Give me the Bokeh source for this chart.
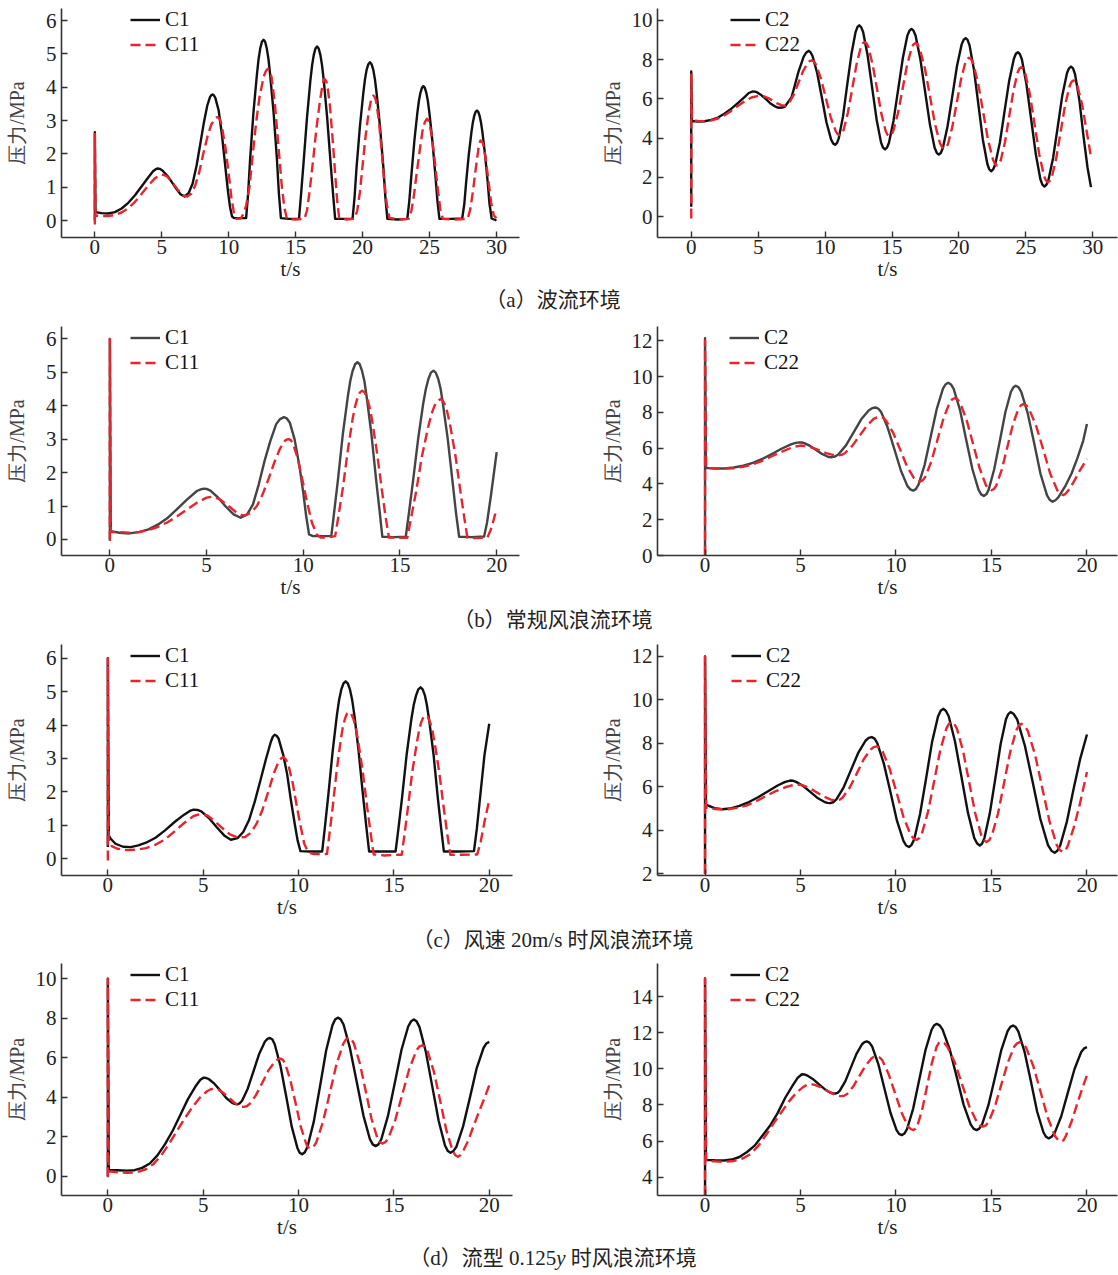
from bokeh.plotting import figure
from bokeh.models import Range1d, FixedTicker, Legend, LegendItem, Div
from bokeh.layouts import column, row
from bokeh.embed import file_html
from bokeh.resources import INLINE

# ---------------- data (t [s], pressure [MPa]) ----------------
a_C1 = [(0,0.0),(0,2.65),(0.05,0.25),(0.5,0.22),(1.0,0.21),(1.5,0.25),(2.0,0.36),(2.5,0.53),(3.0,0.76),(3.5,1.03),(4.0,1.3),(4.35,1.48),(4.55,1.54),(4.7,1.56),(4.85,1.55),(5.05,1.5),(5.5,1.3),(6.0,1.0),(6.4,0.79),(6.7,0.72),(7.0,0.82),(7.3,1.1),(7.6,1.65),(7.9,2.35),(8.15,2.95),(8.4,3.45),(8.6,3.7),(8.7,3.76),(8.8,3.78),(8.9,3.75),(9.0,3.68),(9.25,3.3),(9.5,2.55),(9.75,1.6),(9.95,0.85),(10.1,0.4),(10.25,0.12),(10.4,0.07),(10.9,0.07),
        (11.3,0.07),(11.45,0.8),(11.6,1.85),(11.85,3.25),(12.1,4.35),(12.23,4.84),(12.35,5.15),(12.48,5.36),(12.6,5.42),(12.72,5.36),(12.85,5.15),(12.97,4.84),(13.1,4.35),(13.35,3.25),(13.6,1.85),(13.75,0.8),(13.9,0.07),
        (14.5,0.05),(15.25,0.05),(15.4,0.77),(15.6,1.78),(15.85,3.1),(16.1,4.2),(16.23,4.66),(16.35,4.96),(16.48,5.16),(16.6,5.22),(16.72,5.16),(16.85,4.96),(16.97,4.66),(17.1,4.2),(17.35,3.1),(17.6,1.78),(17.8,0.77),(17.95,0.05),
        (18.6,0.05),(19.25,0.05),(19.4,0.7),(19.55,1.6),(19.8,2.82),(20.05,3.81),(20.18,4.24),(20.3,4.52),(20.43,4.69),(20.55,4.75),(20.67,4.69),(20.8,4.52),(20.92,4.24),(21.05,3.81),(21.3,2.82),(21.55,1.6),(21.7,0.7),(21.85,0.05),
        (22.6,0.03),(23.34,0.05),(23.49,0.59),(23.64,1.34),(23.87,2.4),(24.09,3.23),(24.21,3.6),(24.32,3.83),(24.43,3.98),(24.54,4.03),(24.65,3.98),(24.76,3.83),(24.87,3.6),(24.99,3.23),(25.21,2.4),(25.44,1.34),(25.59,0.59),(25.74,0.05),
        (26.6,0.05),(27.44,0.06),(27.6,0.5),(27.73,1.13),(27.93,1.97),(28.13,2.65),(28.24,2.95),(28.34,3.14),(28.44,3.26),(28.54,3.3),(28.64,3.26),(28.74,3.14),(28.84,2.95),(28.95,2.65),(29.15,1.97),(29.35,1.13),(29.48,0.5),(29.64,0.06),(30.0,0.0)]
a_C11 = [(0,-0.12),(0,2.6),(0.05,0.15),(0.5,0.13),(1.0,0.13),(1.5,0.17),(2.0,0.24),(2.5,0.37),(3.0,0.56),(3.5,0.8),(4.0,1.05),(4.5,1.27),(4.8,1.35),(5.0,1.37),(5.2,1.36),(5.4,1.32),(5.8,1.14),(6.2,0.92),(6.6,0.75),(6.9,0.72),(7.2,0.8),(7.5,1.05),(7.8,1.45),(8.1,2.0),(8.4,2.5),(8.7,2.88),(9.0,3.07),(9.12,3.1),(9.25,3.08),(9.38,3.0),(9.5,2.8),(9.75,2.2),(10.0,1.4),(10.2,0.7),(10.4,0.2),(10.6,0.05),(10.9,0.06),
         (11.1,0.2),(11.3,0.45),(11.55,1.0),(11.8,2.0),(12.05,2.95),(12.3,3.7),(12.6,4.3),(12.77,4.48),(12.92,4.55),(13.06,4.48),(13.2,4.3),(13.45,3.5),(13.7,2.3),(13.95,1.1),(14.15,0.4),(14.35,0.05),
         (15.0,0.03),(15.65,0.05),(15.85,0.3),(16.05,0.9),(16.3,1.8),(16.55,2.75),(16.8,3.55),(17.0,4.05),(17.08,4.19),(17.15,4.25),(17.25,4.2),(17.35,4.1),(17.55,3.5),(17.75,2.5),(17.95,1.4),(18.1,0.6),(18.25,0.08),
         (18.8,0.03),(19.4,0.05),(19.6,0.3),(19.8,0.85),(20.0,1.65),(20.2,2.45),(20.45,3.25),(20.65,3.65),(20.73,3.72),(20.8,3.75),(20.9,3.71),(21.0,3.6),(21.2,3.05),(21.4,2.2),(21.6,1.25),(21.8,0.5),(22.0,0.08),
         (22.7,0.03),(23.45,0.05),(23.65,0.3),(23.85,0.8),(24.05,1.45),(24.3,2.2),(24.5,2.75),(24.65,2.95),(24.8,3.05),(24.9,3.01),(25.0,2.9),(25.2,2.45),(25.4,1.75),(25.6,1.0),(25.8,0.35),(26.0,0.05),
         (26.9,0.03),(27.85,0.05),(28.05,0.35),(28.25,0.9),(28.45,1.55),(28.65,2.15),(28.72,2.3),(28.8,2.4),(28.9,2.38),(29.0,2.3),(29.2,1.85),(29.4,1.2),(29.6,0.55),(29.8,0.15),(30.0,0.07)]
a_C2 = [(0,0.5),(0,7.4),(0.05,4.87),(0.5,4.85),(1.0,4.86),(1.5,4.93),(2.0,5.05),(2.5,5.25),(3.0,5.5),(3.5,5.8),(4.0,6.1),(4.3,6.3),(4.6,6.38),(4.75,6.37),(4.9,6.34),(5.25,6.18),(5.6,5.97),(5.95,5.75),(6.3,5.6),(6.45,5.56),(6.6,5.55),(6.8,5.56),(7.0,5.61),(7.5,6.09),(8.0,7.36),(8.4,8.16),(8.6,8.37),(8.76,8.45),(8.91,8.38),(9.06,8.19),(9.41,7.31),(9.76,6.06),(10.1,4.81),(10.45,3.92),(10.6,3.73),(10.75,3.66),(10.89,3.75),(11.02,3.99),(11.34,5.12),(11.65,6.71),(11.97,8.3),(12.28,9.42),(12.42,9.67),(12.55,9.75),(12.69,9.66),(12.84,9.41),(13.17,8.24),(13.51,6.59),(13.85,4.93),(14.18,3.77),(14.33,3.51),(14.47,3.42),(14.62,3.51),(14.77,3.76),(15.11,4.89),(15.46,6.5),(15.81,8.1),(16.15,9.24),(16.3,9.48),(16.45,9.57),(16.6,9.48),(16.76,9.22),(17.11,8.04),(17.47,6.37),(17.83,4.69),(18.18,3.51),(18.34,3.25),(18.49,3.16),(18.64,3.24),(18.79,3.48),(19.14,4.58),(19.5,6.13),(19.85,7.68),(20.2,8.78),(20.35,9.02),(20.5,9.1),(20.64,9.01),(20.79,8.73),(21.12,7.48),(21.45,5.71),(21.78,3.93),(22.12,2.68),(22.26,2.41),(22.4,2.31),(22.55,2.4),(22.7,2.64),(23.05,3.76),(23.4,5.35),(23.75,6.93),(24.1,8.05),(24.25,8.3),(24.4,8.38),(24.55,8.28),(24.7,8.01),(25.04,6.74),(25.39,4.96),(25.74,3.17),(26.08,1.9),(26.23,1.63),(26.38,1.53),(26.53,1.62),(26.68,1.86),(27.03,2.99),(27.38,4.59),(27.72,6.19),(28.07,7.32),(28.22,7.56),(28.37,7.65),(28.52,7.56),(28.67,7.25),(29.0,5.9),(29.3,4.1),(29.6,2.5),(29.86,1.5)]
a_C22 = [(0,-0.1),(0,7.3),(0.05,4.9),(0.5,4.87),(1.0,4.86),(1.5,4.9),(2.0,5.0),(2.5,5.17),(3.0,5.4),(3.5,5.65),(4.0,5.88),(4.5,6.07),(4.85,6.13),(5.2,6.15),(5.47,6.12),(5.79,6.03),(6.1,5.9),(6.42,5.77),(6.73,5.68),(7.0,5.65),(7.15,5.68),(7.3,5.78),(7.65,6.2),(8.0,6.81),(8.35,7.41),(8.7,7.83),(8.85,7.93),(9.0,7.96),(9.16,7.91),(9.32,7.75),(9.68,7.05),(10.05,6.06),(10.42,5.06),(10.79,4.36),(10.94,4.2),(11.1,4.15),(11.24,4.22),(11.38,4.41),(11.7,5.29),(12.03,6.53),(12.35,7.77),(12.67,8.64),(12.81,8.83),(12.95,8.9),(13.09,8.83),(13.23,8.64),(13.55,7.75),(13.88,6.5),(14.2,5.25),(14.52,4.36),(14.66,4.17),(14.8,4.1),(14.95,4.17),(15.09,4.36),(15.43,5.24),(15.78,6.48),(16.12,7.72),(16.46,8.59),(16.6,8.78),(16.75,8.85),(16.91,8.77),(17.07,8.56),(17.45,7.56),(17.83,6.15),(18.2,4.74),(18.58,3.74),(18.74,3.53),(18.9,3.45),(19.04,3.52),(19.18,3.7),(19.5,4.56),(19.83,5.78),(20.15,6.99),(20.47,7.85),(20.61,8.04),(20.75,8.1),(20.91,8.02),(21.07,7.8),(21.43,6.79),(21.8,5.35),(22.17,3.91),(22.54,2.9),(22.69,2.68),(22.85,2.6),(22.99,2.67),(23.12,2.87),(23.44,3.8),(23.75,5.11),(24.07,6.42),(24.38,7.35),(24.52,7.55),(24.65,7.62),(24.8,7.54),(24.95,7.3),(25.3,6.22),(25.65,4.69),(26.0,3.15),(26.35,2.07),(26.5,1.83),(26.65,1.75),(26.79,1.82),(26.94,2.03),(27.27,2.99),(27.6,4.35),(27.93,5.7),(28.27,6.66),(28.41,6.87),(28.55,6.94),(28.7,6.87),(28.85,6.65),(29.2,5.7),(29.55,4.3),(29.86,3.03)]

b_C1 = [(0,0.0),(0,6.0),(0.05,0.25),(0.5,0.2),(1.0,0.18),(1.5,0.22),(2.0,0.3),(2.5,0.45),(3.0,0.65),(3.5,0.92),(4.0,1.2),(4.5,1.45),(4.7,1.5),(4.86,1.52),(5.0,1.51),(5.2,1.46),(5.6,1.25),(6.0,0.98),(6.4,0.75),(6.76,0.65),(7.1,0.75),(7.4,1.05),(7.7,1.65),(8.0,2.35),(8.3,2.95),(8.6,3.45),(8.8,3.6),(9.0,3.66),(9.15,3.62),(9.3,3.5),(9.55,3.0),(9.8,2.2),(10.0,1.4),(10.15,0.7),(10.3,0.15),(10.5,0.1),(11.0,0.1),(11.45,0.1),(11.6,0.83),(11.8,1.82),(12.05,3.17),(12.3,4.26),(12.43,4.74),(12.55,5.04),(12.68,5.24),(12.8,5.3),(12.92,5.24),(13.04,5.04),(13.16,4.74),(13.28,4.26),(13.52,3.17),(13.76,1.82),(13.95,0.83),(14.09,0.08),(14.7,0.07),(15.3,0.08),(15.46,0.78),(15.67,1.72),(15.94,3.01),(16.2,4.06),(16.34,4.51),(16.47,4.8),(16.6,4.99),(16.73,5.05),(16.85,4.99),(16.98,4.8),(17.1,4.51),(17.22,4.06),(17.47,3.01),(17.72,1.72),(17.9,0.78),(18.06,0.08),(18.7,0.07),(19.35,0.09),(19.5,0.5),(19.7,1.3),(19.85,1.95),(20.0,2.61)]
b_C11 = [(0,-0.05),(0,6.0),(0.05,0.22),(0.5,0.22),(1.0,0.2),(1.5,0.22),(2.0,0.28),(2.5,0.38),(3.0,0.52),(3.5,0.7),(4.0,0.9),(4.5,1.1),(5.0,1.25),(5.3,1.28),(5.7,1.2),(6.1,1.02),(6.5,0.83),(6.8,0.73),(7.0,0.72),(7.3,0.8),(7.6,1.0),(7.9,1.35),(8.2,1.8),(8.5,2.3),(8.8,2.72),(9.05,2.95),(9.15,2.99),(9.25,3.0),(9.35,2.97),(9.45,2.9),(9.7,2.45),(9.95,1.8),(10.2,1.1),(10.45,0.5),(10.7,0.15),(10.9,0.06),(11.3,0.06),(11.65,0.1),(11.82,0.7),(12.05,1.55),(12.3,2.65),(12.55,3.6),(12.68,3.98),(12.8,4.23),(12.93,4.4),(13.05,4.45),(13.17,4.4),(13.3,4.23),(13.42,3.98),(13.55,3.6),(13.8,2.65),(14.05,1.55),(14.25,0.7),(14.43,0.06),(14.9,0.05),(15.38,0.05),(15.57,0.63),(15.83,1.42),(16.14,2.5),(16.46,3.37),(16.63,3.75),(16.78,3.99),(16.95,4.15),(17.1,4.2),(17.22,4.15),(17.36,3.99),(17.47,3.75),(17.61,3.37),(17.87,2.5),(18.13,1.42),(18.33,0.63),(18.49,0.05),(19.0,0.04),(19.52,0.06),(19.7,0.3),(19.85,0.6),(20.0,0.92)]
b_C2 = [(0,0.0),(0,12.15),(0.05,4.9),(0.5,4.87),(1.0,4.87),(1.5,4.92),(2.0,5.02),(2.5,5.18),(3.0,5.4),(3.5,5.68),(4.0,5.97),(4.5,6.22),(4.75,6.3),(4.95,6.33),(5.08,6.32),(5.2,6.29),(5.5,6.13),(5.8,5.92),(6.09,5.7),(6.39,5.55),(6.51,5.51),(6.64,5.5),(6.81,5.54),(6.98,5.65),(7.38,6.16),(7.78,6.89),(8.18,7.62),(8.58,8.13),(8.75,8.24),(8.92,8.28),(9.07,8.22),(9.22,8.03),(9.56,7.17),(9.91,5.96),(10.26,4.74),(10.6,3.88),(10.75,3.7),(10.9,3.63),(11.04,3.71),(11.18,3.96),(11.5,5.07),(11.82,6.65),(12.14,8.22),(12.46,9.33),(12.6,9.58),(12.74,9.66),(12.88,9.57),(13.02,9.32),(13.35,8.15),(13.67,6.5),(14.0,4.84),(14.32,3.68),(14.46,3.42),(14.6,3.33),(14.73,3.42),(14.85,3.67),(15.14,4.81),(15.44,6.42),(15.73,8.03),(16.02,9.16),(16.15,9.41),(16.27,9.5),(16.42,9.41),(16.56,9.15),(16.9,7.95),(17.24,6.26),(17.57,4.56),(17.91,3.36),(18.06,3.1),(18.2,3.01),(18.35,3.09),(18.5,3.25),(18.85,3.85),(19.2,4.6),(19.5,5.45),(19.8,6.4),(20.0,7.36)]
b_C22 = [(0,0.0),(0,12.0),(0.05,4.9),(0.5,4.87),(1.0,4.86),(1.5,4.88),(2.0,4.96),(2.5,5.1),(3.0,5.3),(3.5,5.55),(4.0,5.8),(4.5,6.02),(4.75,6.1),(5.0,6.15),(5.3,6.12),(5.65,6.02),(6.0,5.88),(6.34,5.73),(6.69,5.63),(6.99,5.6),(7.15,5.63),(7.32,5.72),(7.7,6.12),(8.08,6.68),(8.46,7.24),(8.83,7.64),(9.0,7.73),(9.16,7.76),(9.32,7.71),(9.47,7.56),(9.84,6.89),(10.21,5.95),(10.57,5.0),(10.94,4.33),(11.09,4.18),(11.25,4.13),(11.39,4.2),(11.53,4.39),(11.85,5.25),(12.17,6.47),(12.49,7.68),(12.81,8.55),(12.94,8.74),(13.08,8.8),(13.22,8.73),(13.37,8.52),(13.7,7.57),(14.04,6.23),(14.38,4.88),(14.71,3.93),(14.86,3.72),(15.0,3.65),(15.13,3.72),(15.25,3.91),(15.54,4.8),(15.83,6.06),(16.12,7.32),(16.41,8.21),(16.54,8.4),(16.66,8.47),(16.82,8.4),(16.97,8.19),(17.34,7.25),(17.71,5.93),(18.07,4.6),(18.44,3.66),(18.59,3.45),(18.75,3.38),(18.88,3.45),(19.0,3.6),(19.3,4.1),(19.6,4.7),(20.0,5.4)]

c_C1 = [(0,0.35),(0,6.0),(0.05,0.7),(0.15,0.6),(0.4,0.45),(0.8,0.36),(1.2,0.35),(1.6,0.4),(2.0,0.48),(2.5,0.63),(3.0,0.85),(3.5,1.1),(4.0,1.32),(4.3,1.43),(4.5,1.47),(4.7,1.46),(4.9,1.42),(5.3,1.22),(5.7,0.95),(6.1,0.7),(6.45,0.57),(6.8,0.62),(7.1,0.8),(7.4,1.15),(7.7,1.7),(8.0,2.34),(8.3,3.0),(8.55,3.5),(8.65,3.65),(8.75,3.71),(8.85,3.68),(8.95,3.6),(9.2,3.1),(9.4,2.54),(9.6,1.75),(9.8,1.05),(9.95,0.55),(10.1,0.23),(10.6,0.22),(11.24,0.22),(11.38,0.93),(11.56,1.9),(11.79,3.22),(12.01,4.29),(12.13,4.76),(12.24,5.06),(12.36,5.25),(12.47,5.31),(12.58,5.25),(12.7,5.06),(12.81,4.76),(12.93,4.29),(13.15,3.22),(13.38,1.9),(13.56,0.93),(13.7,0.22),(14.4,0.22),(15.09,0.22),(15.24,0.91),(15.43,1.84),(15.67,3.12),(15.91,4.15),(16.04,4.6),(16.16,4.88),(16.28,5.07),(16.4,5.13),(16.51,5.07),(16.63,4.88),(16.73,4.6),(16.85,4.15),(17.08,3.12),(17.3,1.84),(17.48,0.91),(17.62,0.22),(18.4,0.22),(19.2,0.23),(19.35,0.9),(19.55,2.0),(19.75,3.1),(20.0,4.04)]
c_C11 = [(0,-0.05),(0,6.0),(0.05,0.5),(0.2,0.38),(0.5,0.3),(1.0,0.26),(1.5,0.27),(2.0,0.32),(2.5,0.42),(3.0,0.58),(3.5,0.82),(4.0,1.07),(4.5,1.28),(4.8,1.33),(5.2,1.3),(5.6,1.13),(6.0,0.92),(6.4,0.73),(6.8,0.64),(7.2,0.65),(7.5,0.78),(7.8,1.05),(8.1,1.45),(8.4,1.98),(8.7,2.55),(8.95,2.9),(9.08,3.0),(9.2,3.04),(9.32,2.98),(9.45,2.85),(9.7,2.25),(9.9,1.6),(10.1,1.0),(10.3,0.45),(10.5,0.2),(10.8,0.14),(11.2,0.14),(11.49,0.14),(11.62,0.73),(11.79,1.54),(12.0,2.64),(12.21,3.54),(12.32,3.93),(12.43,4.18),(12.54,4.34),(12.64,4.39),(12.76,4.34),(12.88,4.18),(13.0,3.93),(13.12,3.54),(13.36,2.64),(13.6,1.54),(13.79,0.73),(13.94,0.13),(14.5,0.1),(15.26,0.12),(15.41,0.12),(15.55,0.7),(15.73,1.5),(15.96,2.58),(16.2,3.46),(16.32,3.84),(16.43,4.08),(16.55,4.24),(16.66,4.29),(16.78,4.24),(16.9,4.08),(17.02,3.84),(17.14,3.46),(17.38,2.58),(17.62,1.5),(17.81,0.7),(17.96,0.12),(18.6,0.12),(19.37,0.13),(19.55,0.5),(19.75,1.1),(20.0,1.76)]
c_C2 = [(0,2.0),(0,12.0),(0.05,5.2),(0.2,5.12),(0.5,5.02),(0.9,4.97),(1.3,5.0),(1.8,5.12),(2.3,5.3),(2.8,5.53),(3.3,5.8),(3.8,6.06),(4.2,6.23),(4.46,6.29),(4.62,6.28),(4.77,6.23),(5.14,6.04),(5.51,5.77),(5.87,5.5),(6.24,5.31),(6.4,5.26),(6.55,5.25),(6.71,5.29),(6.88,5.42),(7.26,5.98),(7.64,6.77),(8.02,7.56),(8.4,8.12),(8.57,8.25),(8.73,8.29),(8.88,8.22),(9.02,8.01),(9.36,7.08),(9.71,5.76),(10.05,4.44),(10.39,3.51),(10.53,3.3),(10.68,3.23),(10.81,3.32),(10.95,3.58),(11.26,4.75),(11.58,6.41),(11.89,8.07),(12.2,9.24),(12.34,9.5),(12.47,9.59),(12.61,9.5),(12.76,9.25),(13.09,8.09),(13.43,6.45),(13.77,4.8),(14.1,3.64),(14.25,3.39),(14.39,3.3),(14.51,3.39),(14.63,3.64),(14.91,4.77),(15.2,6.37),(15.48,7.97),(15.76,9.11),(15.88,9.35),(16.0,9.44),(16.17,9.35),(16.35,9.09),(16.75,7.89),(17.16,6.21),(17.56,4.52),(17.96,3.32),(18.14,3.06),(18.31,2.97),(18.45,3.06),(18.6,3.3),(18.95,4.4),(19.3,5.9),(19.65,7.3),(20.0,8.41)]
c_C22 = [(0,2.0),(0,12.0),(0.05,5.05),(0.3,5.0),(0.7,4.97),(1.2,4.97),(1.7,5.03),(2.2,5.15),(2.7,5.35),(3.2,5.58),(3.7,5.8),(4.2,5.98),(4.5,6.06),(4.81,6.11),(5.12,6.07),(5.49,5.93),(5.86,5.74),(6.22,5.55),(6.59,5.41),(6.9,5.37),(7.06,5.41),(7.21,5.51),(7.58,5.97),(7.95,6.62),(8.31,7.27),(8.68,7.72),(8.83,7.83),(8.99,7.86),(9.15,7.8),(9.3,7.63),(9.67,6.83),(10.04,5.71),(10.4,4.59),(10.77,3.79),(10.92,3.62),(11.08,3.56),(11.22,3.64),(11.36,3.86),(11.68,4.86),(12.0,6.27),(12.32,7.69),(12.64,8.69),(12.77,8.9),(12.91,8.98),(13.05,8.9),(13.19,8.68),(13.51,7.66),(13.83,6.22),(14.15,4.78),(14.47,3.76),(14.6,3.54),(14.74,3.46),(14.88,3.54),(15.02,3.76),(15.34,4.76),(15.66,6.18),(15.98,7.6),(16.3,8.6),(16.43,8.82),(16.57,8.9),(16.73,8.82),(16.9,8.58),(17.28,7.49),(17.66,5.95),(18.04,4.41),(18.42,3.32),(18.59,3.08),(18.75,3.0),(18.88,3.08),(19.0,3.3),(19.3,4.1),(19.6,5.1),(20.0,6.68)]

d_C1 = [(0,0.0),(0,10.0),(0.05,0.3),(0.5,0.3),(1.0,0.28),(1.4,0.3),(1.8,0.42),(2.2,0.64),(2.6,1.05),(3.0,1.62),(3.4,2.3),(3.8,3.1),(4.2,3.9),(4.6,4.55),(4.85,4.88),(5.03,4.99),(5.16,4.97),(5.29,4.92),(5.6,4.67),(5.91,4.32),(6.21,3.96),(6.52,3.71),(6.65,3.66),(6.78,3.64),(6.91,3.69),(7.04,3.82),(7.34,4.44),(7.64,5.32),(7.94,6.2),(8.24,6.82),(8.37,6.95),(8.5,7.0),(8.63,6.92),(8.75,6.68),(9.05,5.59),(9.35,4.06),(9.64,2.52),(9.94,1.43),(10.06,1.19),(10.19,1.11),(10.33,1.21),(10.47,1.49),(10.8,2.76),(11.13,4.57),(11.45,6.38),(11.78,7.65),(11.92,7.93),(12.06,8.03),(12.21,7.94),(12.36,7.68),(12.7,6.47),(13.05,4.78),(13.4,3.08),(13.74,1.88),(13.89,1.61),(14.04,1.52),(14.19,1.61),(14.34,1.87),(14.69,3.05),(15.05,4.73),(15.4,6.4),(15.75,7.58),(15.9,7.84),(16.05,7.93),(16.19,7.84),(16.34,7.56),(16.67,6.32),(17.01,4.56),(17.35,2.79),(17.68,1.55),(17.83,1.27),(17.97,1.18),(18.12,1.27),(18.28,1.49),(18.63,2.52),(18.99,3.99),(19.34,5.46),(19.7,6.49),(19.85,6.72),(20.0,6.8)]
d_C11 = [(0,-0.05),(0,10.0),(0.05,0.25),(0.5,0.2),(1.0,0.17),(1.5,0.2),(2.0,0.35),(2.4,0.62),(2.8,1.05),(3.2,1.62),(3.6,2.25),(4.0,2.87),(4.4,3.45),(4.8,3.95),(5.2,4.3),(5.4,4.4),(5.56,4.43),(5.68,4.42),(5.8,4.38),(6.07,4.21),(6.35,3.97),(6.62,3.73),(6.9,3.56),(7.01,3.52),(7.13,3.51),(7.28,3.54),(7.42,3.64),(7.76,4.09),(8.1,4.73),(8.43,5.37),(8.77,5.82),(8.92,5.92),(9.06,5.95),(9.18,5.89),(9.3,5.7),(9.57,4.86),(9.85,3.68),(10.12,2.49),(10.4,1.65),(10.51,1.46),(10.63,1.4),(10.78,1.48),(10.93,1.71),(11.28,2.74),(11.64,4.21),(11.99,5.67),(12.34,6.7),(12.49,6.93),(12.64,7.01),(12.77,6.94),(12.9,6.72),(13.21,5.73),(13.52,4.33),(13.82,2.93),(14.13,1.94),(14.26,1.73),(14.39,1.65),(14.55,1.72),(14.71,1.92),(15.07,2.84),(15.44,4.14),(15.81,5.44),(16.18,6.36),(16.33,6.56),(16.49,6.63),(16.63,6.55),(16.77,6.32),(17.1,5.28),(17.43,3.81),(17.75,2.33),(18.08,1.29),(18.22,1.06),(18.36,0.98),(18.48,1.06),(18.6,1.2),(18.9,1.8),(19.2,2.6),(19.5,3.35),(19.75,3.95),(20.0,4.6)]
d_C2 = [(0,3.0),(0,15.0),(0.05,4.96),(0.5,4.94),(1.0,4.93),(1.4,4.98),(1.8,5.12),(2.2,5.4),(2.6,5.75),(3.0,6.3),(3.4,6.85),(3.8,7.55),(4.2,8.4),(4.6,9.1),(4.85,9.5),(5.07,9.7),(5.2,9.69),(5.33,9.64),(5.64,9.44),(5.94,9.17),(6.25,8.89),(6.55,8.69),(6.68,8.65),(6.81,8.63),(6.94,8.67),(7.06,8.79),(7.35,9.32),(7.64,10.08),(7.93,10.83),(8.22,11.36),(8.35,11.48),(8.47,11.52),(8.61,11.45),(8.75,11.24),(9.07,10.28),(9.39,8.93),(9.71,7.57),(10.03,6.61),(10.16,6.4),(10.3,6.33),(10.44,6.42),(10.58,6.67),(10.9,7.8),(11.22,9.41),(11.54,11.02),(11.86,12.15),(11.99,12.4),(12.13,12.49),(12.29,12.41),(12.44,12.17),(12.81,11.09),(13.18,9.55),(13.54,8.02),(13.91,6.93),(14.06,6.69),(14.22,6.61),(14.36,6.69),(14.51,6.93),(14.84,7.99),(15.18,9.51),(15.51,11.02),(15.84,12.08),(15.99,12.32),(16.13,12.4),(16.27,12.31),(16.41,12.06),(16.74,10.91),(17.07,9.28),(17.39,7.64),(17.72,6.49),(17.86,6.24),(18.0,6.15),(18.15,6.24),(18.3,6.43),(18.65,7.36),(19.0,8.68),(19.35,9.99),(19.7,10.93),(19.85,11.13),(20.0,11.2)]
d_C22 = [(0,3.0),(0,15.0),(0.05,4.9),(0.5,4.88),(1.0,4.85),(1.5,4.9),(2.0,5.05),(2.4,5.3),(2.8,5.75),(3.2,6.35),(3.6,7.0),(4.0,7.6),(4.4,8.2),(4.8,8.7),(5.15,9.0),(5.35,9.12),(5.5,9.15),(5.62,9.14),(5.75,9.11),(6.04,8.99),(6.33,8.82),(6.62,8.65),(6.91,8.53),(7.04,8.5),(7.16,8.49),(7.3,8.52),(7.44,8.61),(7.76,9.02),(8.08,9.6),(8.4,10.17),(8.72,10.58),(8.85,10.67),(8.99,10.7),(9.13,10.64),(9.28,10.48),(9.61,9.72),(9.95,8.66),(10.29,7.59),(10.62,6.83),(10.77,6.67),(10.91,6.61),(11.02,6.68),(11.13,6.88),(11.38,7.78),(11.63,9.06),(11.88,10.33),(12.13,11.23),(12.24,11.43),(12.35,11.5),(12.52,11.43),(12.68,11.24),(13.07,10.38),(13.46,9.15),(13.84,7.92),(14.23,7.06),(14.39,6.87),(14.56,6.8),(14.7,6.87),(14.85,7.06),(15.18,7.92),(15.52,9.14),(15.86,10.36),(16.19,11.23),(16.34,11.41),(16.48,11.48),(16.64,11.4),(16.81,11.18),(17.19,10.16),(17.57,8.73),(17.95,7.29),(18.33,6.27),(18.5,6.05),(18.66,5.97),(18.78,6.05),(18.9,6.3),(19.2,7.1),(19.5,8.1),(19.75,8.9),(20.0,9.64)]

x_ticks_30 = [0, 5, 10, 15, 20, 25, 30]
x_ticks_20 = [0, 5, 10, 15, 20]
y_ticks_a_left = [0, 1, 2, 3, 4, 5, 6]
y_ticks_a_right = [0, 2, 4, 6, 8, 10]
y_ticks_b_left = [0, 1, 2, 3, 4, 5, 6]
y_ticks_b_right = [0, 2, 4, 6, 8, 10, 12]
y_ticks_c_left = [0, 1, 2, 3, 4, 5, 6]
y_ticks_c_right = [2, 4, 6, 8, 10, 12]
y_ticks_d_left = [0, 2, 4, 6, 8, 10]
y_ticks_d_right = [4, 6, 8, 10, 12, 14]

captions = ["（a）波流环境", "（b）常规风浪流环境",
            "（c）风速 20m/s 时风浪流环境", "（d）流型 0.125<i>y</i> 时风浪流环境"]

# ---------------- styling ----------------
SERIF = "Liberation Serif, Times New Roman, serif"
RED = "#e8252d"
AXC = "#333333"


def xs(s):
    return [p[0] for p in s]


def ys(s):
    return [p[1] for p in s]


def panel(black, red, nb, nr, xr, yr, xt, yt, H, top, bottom, bl, br,
          black_color, ylab_standoff, leg_dx, leg_c1):
    p = figure(width=559, height=H, x_range=Range1d(*xr), y_range=Range1d(*yr),
               output_backend="svg", toolbar_location=None,
               min_border_left=bl, min_border_right=br,
               min_border_top=top, min_border_bottom=bottom)
    p.outline_line_color = None
    p.grid.visible = False
    p.background_fill_color = "white"
    p.border_fill_color = "white"
    for ax in (p.xaxis[0], p.yaxis[0]):
        ax.axis_line_color = AXC
        ax.axis_line_width = 1.6
        ax.major_tick_line_color = AXC
        ax.major_tick_line_width = 1.4
        ax.major_tick_in = 6
        ax.major_tick_out = 0
        ax.minor_tick_line_color = None
        ax.major_label_text_font = SERIF
        ax.major_label_text_font_size = "21px"
        ax.major_label_text_color = "#222222"
    p.xaxis.ticker = FixedTicker(ticks=xt)
    p.yaxis.ticker = FixedTicker(ticks=yt)
    p.xaxis.major_label_standoff = 2
    p.yaxis.major_label_standoff = 5

    p.yaxis.axis_label = "压力/MPa"
    p.yaxis.axis_label_text_font = SERIF
    p.yaxis.axis_label_text_font_size = "20px"
    p.yaxis.axis_label_text_font_style = "normal"
    p.yaxis.axis_label_text_color = "#444444"
    p.yaxis.axis_label_standoff = ylab_standoff

    p.xaxis.axis_label = "t/s"
    p.xaxis.axis_label_text_font = SERIF
    p.xaxis.axis_label_text_font_size = "21px"
    p.xaxis.axis_label_text_font_style = "normal"
    p.xaxis.axis_label_text_color = "#222222"
    p.xaxis.axis_label_standoff = 0

    rb = p.line(xs(black), ys(black), line_color=black_color, line_width=2.4,
                line_join="round")
    rr = p.line(xs(red), ys(red), line_color=RED, line_width=2.4,
                line_dash="10 5", line_join="round")

    fh = H - top - bottom
    leg_h = 46
    leg_top = leg_c1 - 11.5
    lg = Legend(items=[LegendItem(label=nb, renderers=[rb]),
                       LegendItem(label=nr, renderers=[rr])],
                location=(leg_dx, fh - leg_top - leg_h))
    lg.border_line_color = None
    lg.background_fill_alpha = 0
    lg.padding = 0
    lg.margin = 0
    lg.spacing = 0
    lg.glyph_width = 30
    lg.glyph_height = 23
    lg.label_height = 23
    lg.label_standoff = 5
    lg.label_text_font = SERIF
    lg.label_text_font_size = "21px"
    lg.label_text_color = "#111111"
    p.add_layout(lg)
    return p


def caption(txt):
    return Div(text=f'<div style="width:1112px;padding-right:6px;text-align:center;font-size:21px;'
                    f'line-height:30px;font-family:\'Liberation Serif\',\'Times New Roman\','
                    f'\'Noto Sans CJK SC\',serif;color:#222;white-space:nowrap;">{txt}</div>',
               width=1118, height=30, margin=0)


pa1 = panel(a_C1, a_C11, "C1", "C11", (-2.49, 31.72), (-0.51, 6.36), x_ticks_30, y_ticks_a_left,
            285, 8, 48, 61, 40, "#111111", 15, 69, 14.5)
pa2 = panel(a_C2, a_C22, "C2", "C22", (-2.52, 31.84), (-1.07, 10.61), x_ticks_30, y_ticks_a_right,
            285, 8, 48, 98, 1, "#111111", 5, 73, 14.5)
pb1 = panel(b_C1, b_C11, "C1", "C11", (-2.5, 21.18), (-0.48, 6.37), x_ticks_20, y_ticks_b_left,
            290, 11, 50, 61, 40, "#444444", 15, 69, 14.7)
pb2 = panel(b_C2, b_C22, "C2", "C22", (-2.49, 21.6), (0, 12.81), x_ticks_20, y_ticks_b_right,
            290, 11, 50, 98, 1, "#444444", 5, 72, 14.7)
pc1 = panel(c_C1, c_C11, "C1", "C11", (-2.43, 21.22), (-0.5, 6.41), x_ticks_20, y_ticks_c_left,
            290, 9, 50, 61, 47, "#111111", 15, 69, 14.5)
pc2 = panel(c_C2, c_C22, "C2", "C22", (-2.49, 21.6), (1.92, 12.55), x_ticks_20, y_ticks_c_right,
            290, 9, 50, 98, 1, "#111111", 5, 74, 14.5)
pd1 = panel(d_C1, d_C11, "C1", "C11", (-2.43, 21.22), (-0.98, 10.77), x_ticks_20, y_ticks_d_left,
            288, 8, 48, 61, 47, "#111111", 5, 69, 14.5)
pd2 = panel(d_C2, d_C22, "C2", "C22", (-2.49, 21.6), (2.99, 15.83), x_ticks_20, y_ticks_d_right,
            288, 8, 48, 98, 1, "#111111", 5, 73, 14.5)

layout = column(row(pa1, pa2), caption(captions[0]),
                row(pb1, pb2), caption(captions[1]),
                row(pc1, pc2), caption(captions[2]),
                row(pd1, pd2), caption(captions[3]))

open("out.html", "w").write(file_html(layout, INLINE))
